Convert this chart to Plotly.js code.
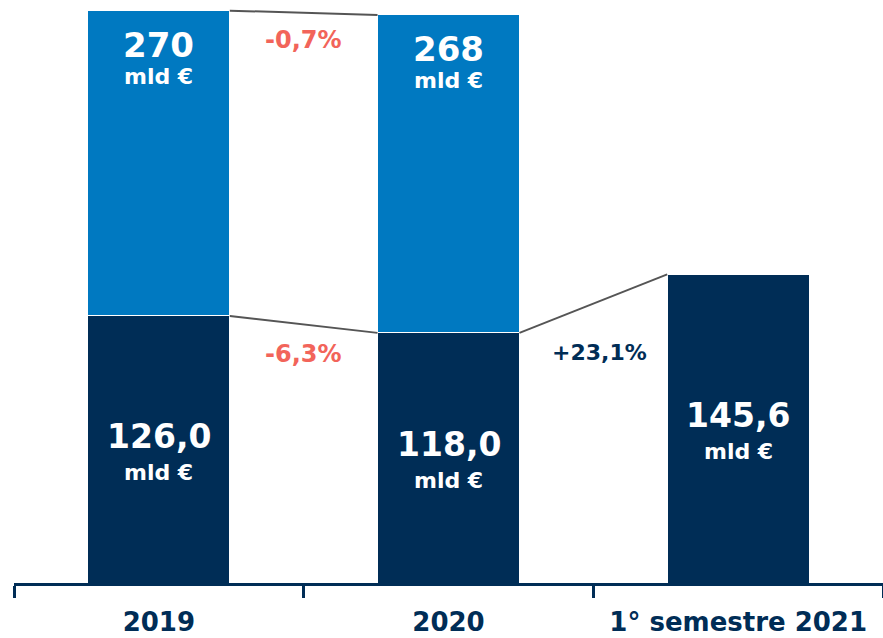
<!DOCTYPE html>
<html><head><meta charset="utf-8">
<script src="https://cdn.plot.ly/plotly-3.0.1.min.js"></script>
<style>html,body{margin:0;padding:0;background:#fff}#chart{width:883px;height:638px}</style>
</head><body><div id="chart"></div>
<script>
const categories = ["2019", "2020", "1° semestre 2021"];
const baseValues = [126.0, 118.0, 145.6];
const totalValues = [270, 268, null];
const topValues = [144, 150, null];
const baseLabels = ["126,0", "118,0", "145,6"];
const totalLabels = ["270", "268", ""];
const changeLabels = ["-0,7%", "-6,3%", "+23,1%"];

const NAVY = "#002D56", BLUE = "#0079C1", RED = "#F2645A", GRAY = "#555555";
const FONT = "DejaVu Sans, Open Sans, sans-serif";
const HALF = 0.245;

const traces = [
  {type:"bar", x:categories, y:baseValues, marker:{color:NAVY, line:{color:"#ffffff", width:1}}, hoverinfo:"skip"},
  {type:"bar", x:categories, y:topValues, marker:{color:BLUE, line:{color:"#ffffff", width:1}}, hoverinfo:"skip"}
];

const ann = [];
categories.forEach((c, i) => {
  ann.push({x:i, y:baseValues[i]/2, xref:"x", yref:"y", showarrow:false, yshift:13,
    text:"<b>"+baseLabels[i]+"</b>", font:{family:FONT, size:33, color:"#fff"}});
  ann.push({x:i, y:baseValues[i]/2, xref:"x", yref:"y", showarrow:false, yshift:-23,
    text:"<b>mld €</b>", font:{family:FONT, size:22, color:"#fff"}});
  if (totalValues[i] !== null) {
    ann.push({x:i, y:totalValues[i], xref:"x", yref:"y", showarrow:false, yshift:-34,
      text:"<b>"+totalLabels[i]+"</b>", font:{family:FONT, size:34, color:"#fff"}});
    ann.push({x:i, y:totalValues[i], xref:"x", yref:"y", showarrow:false, yshift:-66,
      text:"<b>mld €</b>", font:{family:FONT, size:22, color:"#fff"}});
  }
});
ann.push({x:0.5, y:totalValues[0], xref:"x", yref:"y", showarrow:false, yshift:-29,
  text:"<b>"+changeLabels[0]+"</b>", font:{family:FONT, size:24, color:RED}});
ann.push({x:0.5, y:baseValues[1], xref:"x", yref:"y", showarrow:false, yshift:-21,
  text:"<b>"+changeLabels[1]+"</b>", font:{family:FONT, size:24, color:RED}});
ann.push({x:1.52, y:baseValues[1], xref:"x", yref:"y", showarrow:false, yshift:-20,
  text:"<b>"+changeLabels[2]+"</b>", font:{family:FONT, size:22, color:NAVY}});

const shapes = [
  {type:"line", xref:"x", yref:"y", x0:0+HALF, x1:1-HALF, y0:totalValues[0], y1:totalValues[1], line:{color:GRAY, width:2}},
  {type:"line", xref:"x", yref:"y", x0:0+HALF, x1:1-HALF, y0:baseValues[0], y1:baseValues[1], line:{color:GRAY, width:2}},
  {type:"line", xref:"x", yref:"y", x0:1+HALF, x1:2-HALF, y0:baseValues[1], y1:baseValues[2], line:{color:GRAY, width:2}}
];

const layout = {
  width:883, height:638,
  margin:{l:14, r:0, t:6, b:55},
  barmode:"stack", bargap:0.51, showlegend:false,
  paper_bgcolor:"#fff", plot_bgcolor:"#fff",
  xaxis:{type:"category", range:[-0.5, 2.5], showline:true, linecolor:NAVY, linewidth:3,
    ticks:"outside", tickson:"boundaries", ticklen:12, tickwidth:3, tickcolor:NAVY,
    ticklabelstandoff:14,
    tickfont:{family:FONT, size:26, color:NAVY}, showgrid:false, zeroline:false,
    tickprefix:"<b>", ticksuffix:"</b>"},
  yaxis:{range:[0, 272.2], visible:false, showgrid:false, zeroline:false},
  annotations:ann, shapes:shapes
};
Plotly.newPlot("chart", traces, layout, {staticPlot:true, displayModeBar:false});
</script></body></html>
